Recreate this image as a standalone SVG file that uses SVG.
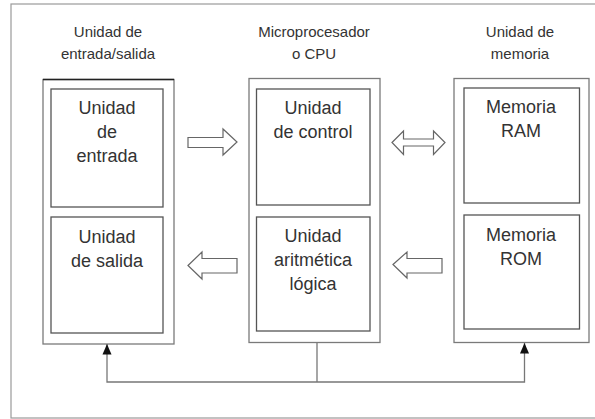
<svg xmlns="http://www.w3.org/2000/svg" width="595" height="419" viewBox="0 0 595 419">
  <defs>
    <style>
      .frame { fill: none; stroke: #9a9a9a; stroke-width: 1.2; }
      .box { fill: #ffffff; stroke: #7a7a7a; stroke-width: 1.3; }
      .inner { fill: #ffffff; stroke: #555555; stroke-width: 1.3; }
      .head { font-family: "Liberation Sans", Arial, sans-serif; font-size: 15px; fill: #333333; text-anchor: middle; }
      .label { font-family: "Liberation Sans", Arial, sans-serif; font-size: 18px; fill: #333333; text-anchor: middle; }
      .block { fill: #ffffff; stroke: #666666; stroke-width: 1.2; stroke-linejoin: miter; }
      .wire { fill: none; stroke: #777777; stroke-width: 1.3; }
    </style>
    <marker id="tip" markerWidth="11" markerHeight="10" refX="10.5" refY="5" orient="auto-start-reverse" markerUnits="userSpaceOnUse" viewBox="0 0 11 10">
      <path d="M0,0.5 L10.5,5 L0,9.5 Z" fill="#111111"/>
    </marker>
  </defs>

  <!-- page frame -->
  <rect class="frame" x="11" y="4" width="600" height="414"/>

  <!-- column headings -->
  <g id="heading-io">
    <text class="head" x="108" y="37">Unidad de</text>
    <text class="head" x="108" y="59">entrada/salida</text>
  </g>
  <g id="heading-cpu">
    <text class="head" x="314" y="37">Microprocesador</text>
    <text class="head" x="314" y="59">o CPU</text>
  </g>
  <g id="heading-mem">
    <text class="head" x="520" y="37">Unidad de</text>
    <text class="head" x="520" y="59">memoria</text>
  </g>

  <!-- input/output unit -->
  <g id="io-unit">
    <rect class="box" x="43" y="79.5" width="131" height="264.5"/>
    <line x1="43" y1="79.5" x2="174" y2="79.5" stroke="#222222" stroke-width="1.3"/>
  </g>
  <g id="input-unit">
    <rect class="inner" x="51" y="89" width="112" height="118"/>
    <text class="label" x="107" y="114">Unidad</text>
    <text class="label" x="107" y="138">de</text>
    <text class="label" x="107" y="162">entrada</text>
  </g>
  <g id="output-unit">
    <rect class="inner" x="51" y="217" width="112" height="116"/>
    <text class="label" x="107" y="243">Unidad</text>
    <text class="label" x="107" y="267">de salida</text>
  </g>

  <!-- CPU -->
  <g id="cpu">
    <rect class="box" x="249" y="78.5" width="131" height="264"/>
  </g>
  <g id="control-unit">
    <rect class="inner" x="256.5" y="89" width="113.5" height="116"/>
    <text class="label" x="313" y="114">Unidad</text>
    <text class="label" x="313" y="138">de control</text>
  </g>
  <g id="alu">
    <rect class="inner" x="256.5" y="217" width="113.5" height="114"/>
    <text class="label" x="313" y="242">Unidad</text>
    <text class="label" x="313" y="266">aritmética</text>
    <text class="label" x="313" y="290">lógica</text>
  </g>

  <!-- memory unit -->
  <g id="memory-unit">
    <rect class="box" x="454" y="78.5" width="135" height="264"/>
  </g>
  <g id="ram">
    <rect class="inner" x="464" y="88" width="115.5" height="115"/>
    <text class="label" x="521" y="113">Memoria</text>
    <text class="label" x="521" y="137">RAM</text>
  </g>
  <g id="rom">
    <rect class="inner" x="464" y="215" width="115.5" height="114"/>
    <text class="label" x="521" y="241">Memoria</text>
    <text class="label" x="521" y="265">ROM</text>
  </g>

  <!-- connectors -->
  <g id="connectors">
    <!-- input -> control -->
    <path class="block" d="M188,137.5 L223,137.5 L223,129 L237,142 L223,155 L223,147.5 L188,147.5 Z"/>
    <!-- control <-> RAM -->
    <path class="block" d="M392,142.5 L403.5,131 L403.5,139 L433.5,139 L433.5,131 L445,142.5 L433.5,154.5 L433.5,146 L403.5,146 L403.5,154.5 Z"/>
    <!-- ALU -> output -->
    <path class="block" d="M188,265.5 L202,252 L202,258.5 L237,258.5 L237,273 L202,273 L202,279 Z"/>
    <!-- ROM -> ALU -->
    <path class="block" d="M393,264.5 L407,252 L407,258.5 L442,258.5 L442,273 L407,273 L407,278 Z"/>
    <!-- bus from CPU to output unit and memory -->
    <line class="wire" x1="317" y1="343" x2="317" y2="382"/>
    <polyline class="wire" points="107,344 107,382 524.5,382 524.5,343" marker-start="url(#tip)" marker-end="url(#tip)"/>
  </g>
</svg>
